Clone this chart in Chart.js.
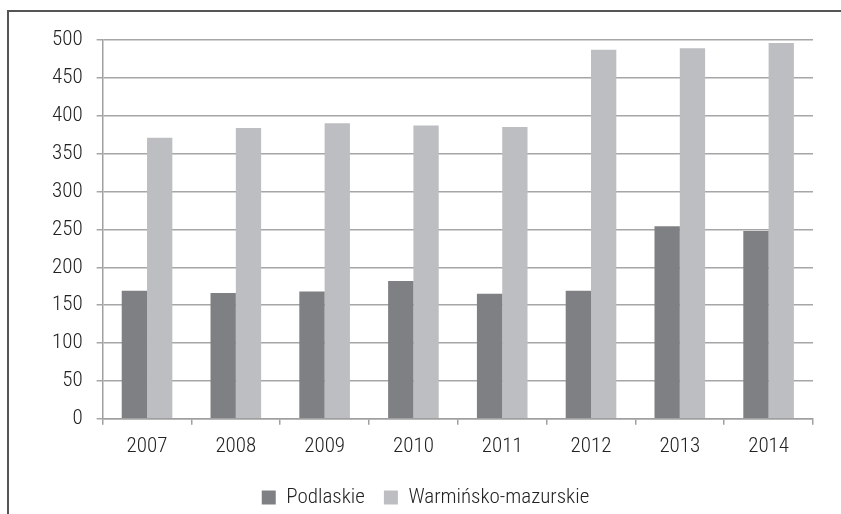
<!DOCTYPE html>
<html lang="en">
<head>
  <meta charset="UTF-8">
  <title>Podlaskie / Warmińsko-mazurskie</title>
  <script src="https://cdn.jsdelivr.net/npm/chart.js"></script>
  <style>
    * { box-sizing: border-box; }
    html, body { margin: 0; padding: 0; background: #fff; }
    #wrap { position: relative; width: 841px; height: 514px; }
  </style>
</head>
<body>
  <div id="wrap"><canvas id="chart" width="841" height="514"></canvas></div>

  <script>
    const years = ['2007', '2008', '2009', '2010', '2011', '2012', '2013', '2014'];
    const podlaskie = [169, 166, 168, 182, 165, 169, 254, 248];
    const warminsko = [371, 384, 390, 387, 385, 487, 489, 496];
    const seriesNames = ['Podlaskie', 'Warmińsko-mazurskie'];

    const FONT = '"Roboto Condensed", "Liberation Sans Narrow", "Arial Narrow", sans-serif';
    const txt = { family: FONT, size: 21, weight: 300 };

    // outer frame: only top and left edges visible in the original
    const framePlugin = {
      id: 'frame',
      afterDraw(chart) {
        const ctx = chart.ctx;
        ctx.save();
        ctx.strokeStyle = '#555';
        ctx.lineWidth = 2;
        ctx.beginPath();
        ctx.moveTo(841, 11);
        ctx.lineTo(8, 11);
        ctx.lineTo(8, 514);
        ctx.stroke();
        ctx.restore();
      }
    };

    new Chart(document.getElementById('chart'), {
      type: 'bar',
      data: {
        labels: years,
        datasets: [
          { label: seriesNames[0], data: podlaskie, backgroundColor: '#7f8083' },
          { label: seriesNames[1], data: warminsko, backgroundColor: '#bdbec1' }
        ]
      },
      options: {
        responsive: false,
        animation: false,
        layout: { padding: { left: 38, right: 28, top: 40, bottom: -4 } },
        datasets: { bar: { categoryPercentage: 0.57, barPercentage: 1 } },
        scales: {
          x: {
            grid: { drawOnChartArea: false, drawTicks: true, tickLength: 6, color: '#a0a0a0', lineWidth: 1.5 },
            border: { color: '#a0a0a0', width: 1.5 },
            ticks: { color: '#222', font: txt, padding: 9 }
          },
          y: {
            min: 0, max: 500,
            grid: { color: '#a6a6a6', lineWidth: 1.5, tickLength: 6 },
            border: { color: '#a0a0a0', width: 1.5 },
            ticks: { stepSize: 50, color: '#222', font: txt, padding: 14 }
          }
        },
        plugins: {
          legend: {
            position: 'bottom',
            labels: {
              color: '#222',
              font: txt,
              boxWidth: 14, boxHeight: 14, padding: 19
            }
          },
          tooltip: { enabled: false }
        }
      },
      plugins: [framePlugin]
    });
  </script>
</body>
</html>
